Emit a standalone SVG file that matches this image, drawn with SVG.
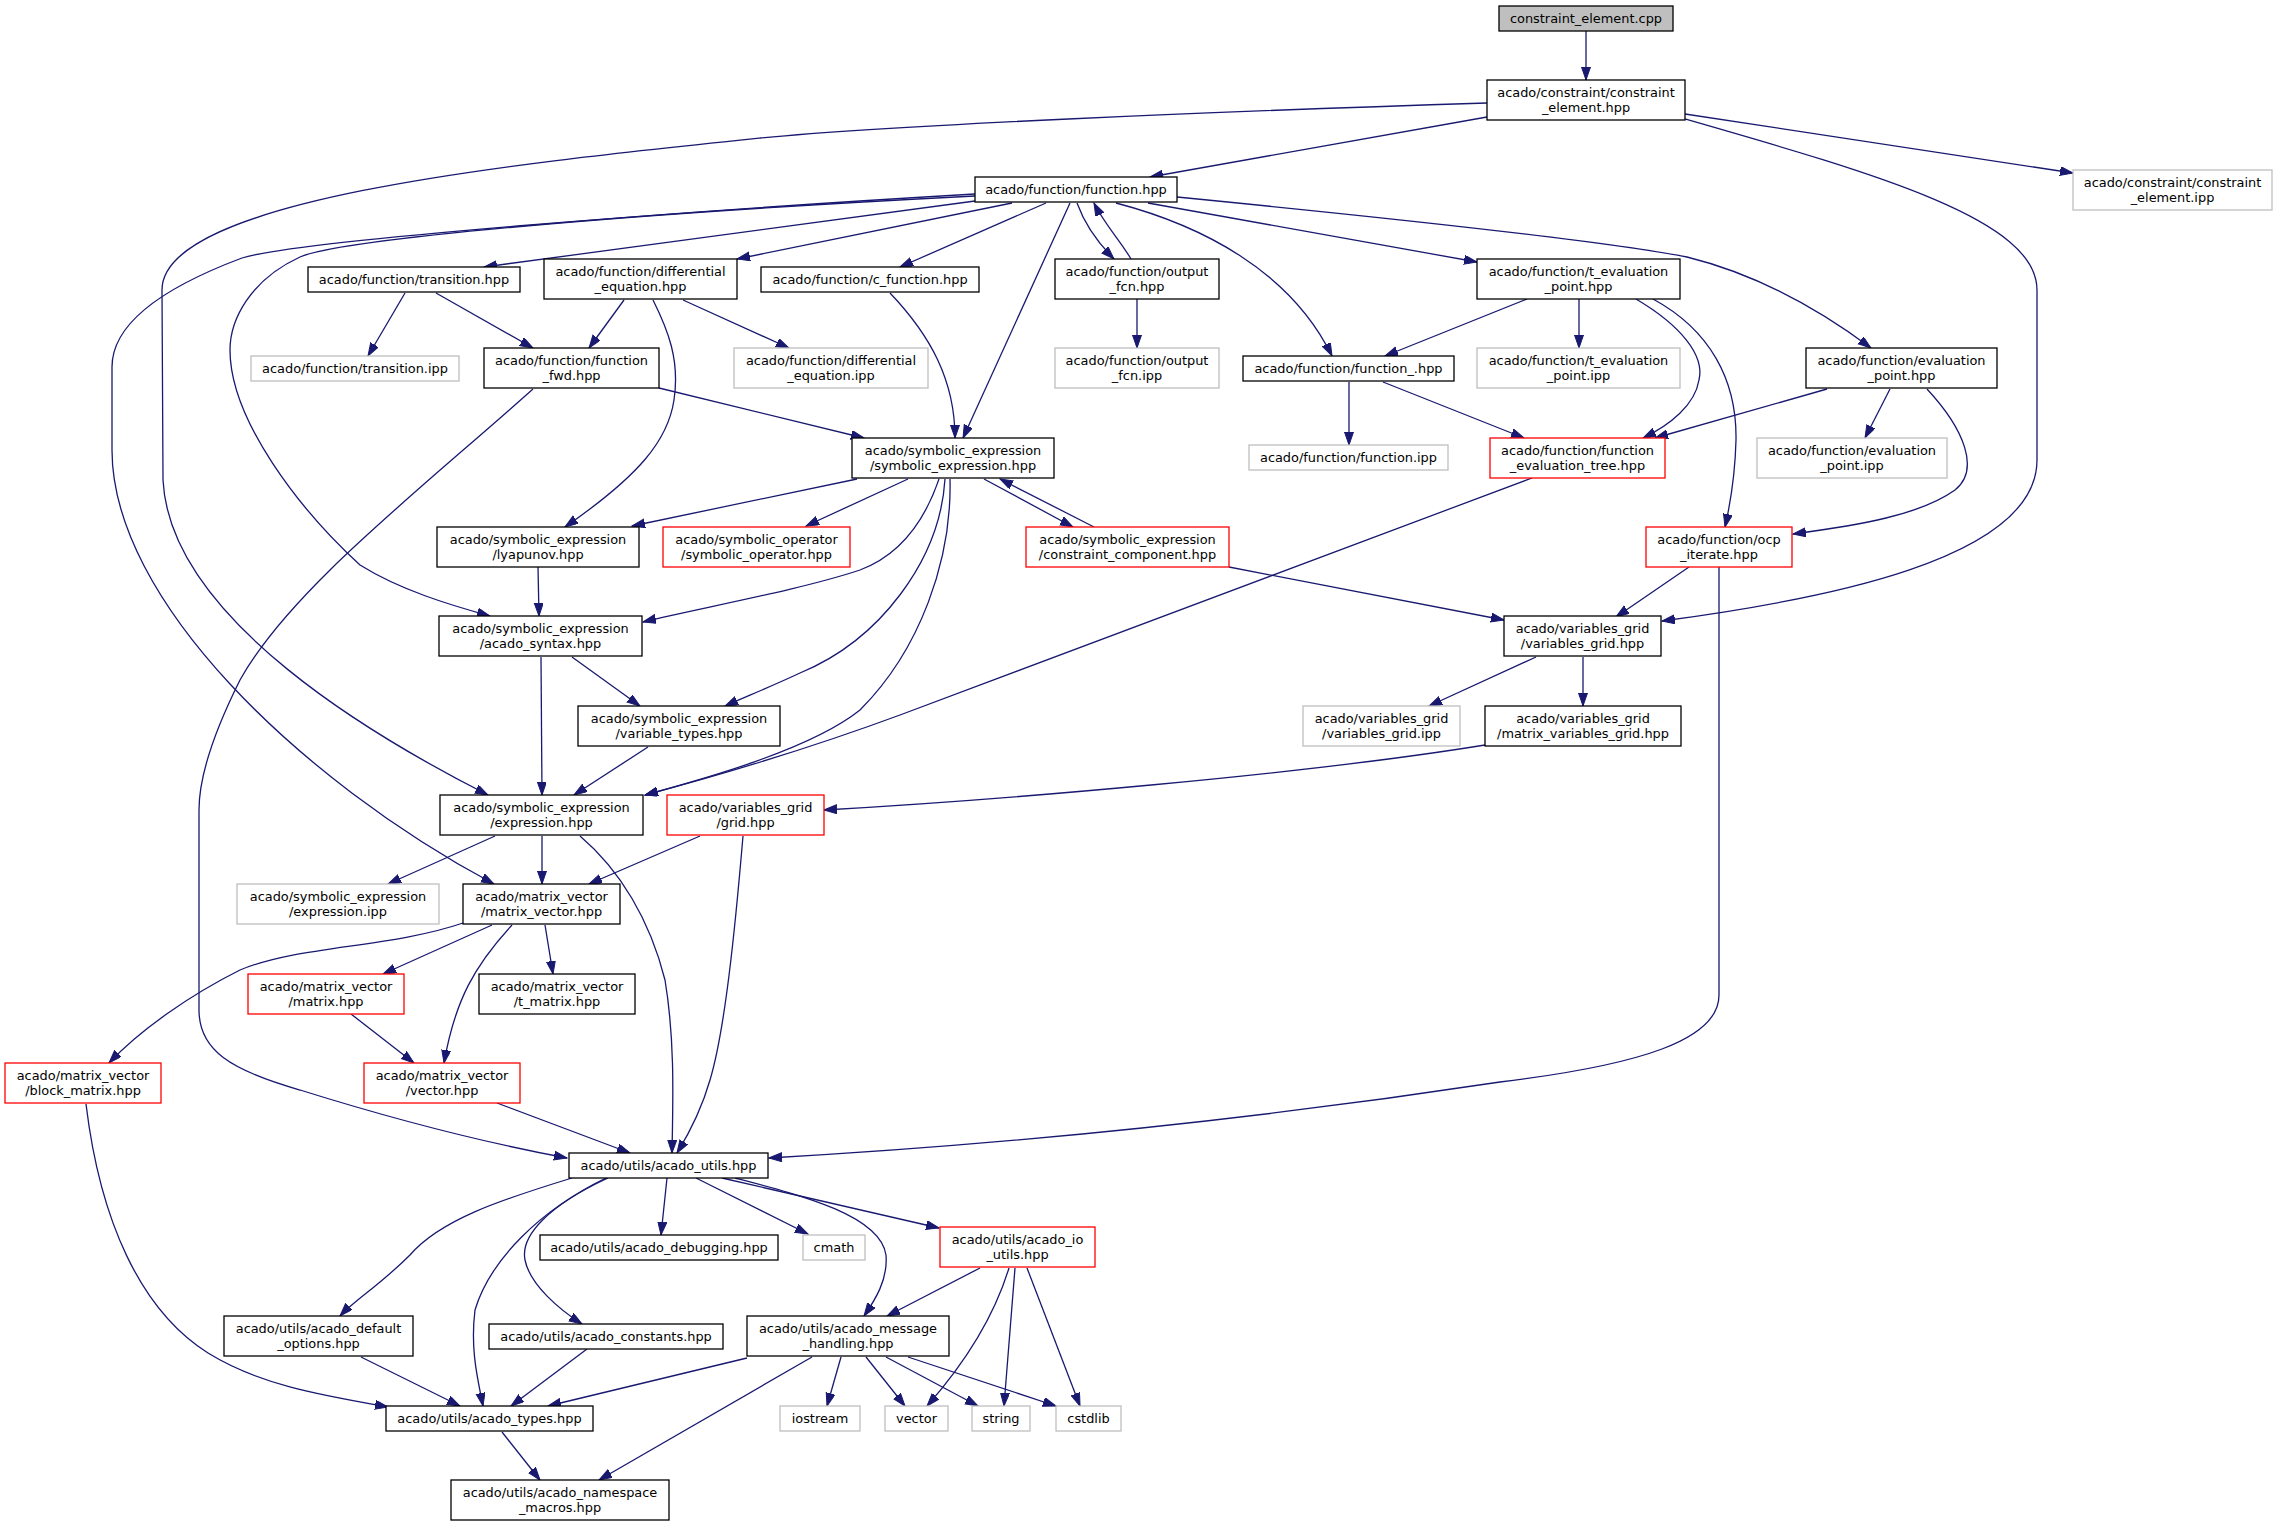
<svg xmlns="http://www.w3.org/2000/svg" width="2277" height="1527" viewBox="0 0 2277 1527">
<style>
text{font-family:"DejaVu Sans",sans-serif;font-size:12.9px;fill:#000;text-anchor:middle}
.nd rect{fill:#fff;stroke:#000;stroke-width:1.3}
.gr rect{fill:#fff;stroke:#bfbfbf;stroke-width:1.3}
.rd rect{fill:#fff;stroke:#ff0000;stroke-width:1.3}
.root rect{fill:#bfbfbf;stroke:#000;stroke-width:1.3}
#edges path{fill:none;stroke:#191970;stroke-width:1.3;marker-end:url(#ah)}
</style>
<defs>
<marker id="ah" markerUnits="userSpaceOnUse" markerWidth="14" markerHeight="10" refX="13" refY="4.5" orient="auto">
<path d="M0,0 L13,4.5 L0,9 z" fill="#191970" stroke="#191970" stroke-width="1"/>
</marker>
</defs>
<rect width="2277" height="1527" fill="#fff"/>
<g id="edges">
<path d="M1586,31 L1586,80"/>
<path d="M1487,117 L1150,177"/>
<path d="M1685,114 L2073,173"/>
<path d="M1685,119 C1880,175 2037,220 2037,290 L2037,460 C2037,560 1820,600 1662,621"/>
<path d="M1487,103 C1200,112 900,125 760,138 C500,165 162,200 162,290 L163,480 C170,620 380,740 488,795"/>
<path d="M975,201 L484,267"/>
<path d="M1012,203 L737,259"/>
<path d="M1046,203 L900,267"/>
<path d="M1070,203 L963,438"/>
<path d="M1077,203 C1085,225 1100,245 1114,259"/>
<path d="M1131,259 C1120,240 1105,225 1094,203"/>
<path d="M1116,203 C1200,225 1290,270 1332,356"/>
<path d="M1148,203 L1477,262"/>
<path d="M1177,197 C1350,214 1600,240 1687,257 C1760,275 1820,310 1871,348"/>
<path d="M975,196 C600,215 340,240 300,257 C250,280 230,320 230,350 C230,420 300,510 360,565 C400,590 450,605 490,616"/>
<path d="M975,194 C700,210 300,240 242,258 C170,285 112,320 112,367 L112,450 C112,600 300,780 494,884"/>
<path d="M405,293 L368,356"/>
<path d="M436,293 L533,348"/>
<path d="M624,300 L589,348"/>
<path d="M653,300 C668,330 680,360 674,400 C668,440 640,475 565,527"/>
<path d="M683,300 L789,348"/>
<path d="M533,389 C420,490 290,590 240,680 C210,740 199,780 199,810 L199,1010 C199,1050 230,1070 300,1090 C380,1115 470,1140 567,1158"/>
<path d="M659,388 L864,438"/>
<path d="M890,293 C930,335 955,380 955,438"/>
<path d="M1137,299 L1137,348"/>
<path d="M1527,299 L1385,356"/>
<path d="M1579,299 L1579,348"/>
<path d="M1636,299 C1680,325 1705,355 1699,380 C1695,405 1670,425 1643,438"/>
<path d="M1653,299 C1710,330 1737,380 1736,440 C1735,480 1730,505 1725,527"/>
<path d="M1349,382 L1349,445"/>
<path d="M1383,382 L1524,438"/>
<path d="M1827,389 L1655,438"/>
<path d="M1890,389 L1865,438"/>
<path d="M1927,389 C1965,430 1980,470 1955,490 C1920,515 1860,525 1793,534"/>
<path d="M1532,478 L900,715 C800,752 720,775 645,795"/>
<path d="M857,479 L632,526"/>
<path d="M908,479 L806,526"/>
<path d="M939,479 C925,520 900,555 860,570 C800,590 700,608 643,622"/>
<path d="M945,479 C940,560 880,640 800,673 C770,687 745,697 725,706"/>
<path d="M950,479 C952,560 920,650 860,710 C810,750 700,780 645,795"/>
<path d="M984,479 L1073,527"/>
<path d="M1094,527 L1000,479"/>
<path d="M1229,567 L1504,620"/>
<path d="M1689,567 L1616,617"/>
<path d="M1719,567 L1719,995 C1719,1040 1640,1065 1500,1082 C1250,1120 1000,1145 769,1158"/>
<path d="M1536,657 L1429,706"/>
<path d="M1583,657 L1583,706"/>
<path d="M1485,745 C1300,775 1000,800 824,810"/>
<path d="M538,567 L539,616"/>
<path d="M541,657 L542,795"/>
<path d="M572,657 L640,706"/>
<path d="M648,747 L574,795"/>
<path d="M495,836 L388,884"/>
<path d="M542,836 L542,884"/>
<path d="M580,836 C620,870 650,920 665,980 C675,1040 673,1100 672,1153"/>
<path d="M700,836 L589,884"/>
<path d="M743,836 C735,930 725,1030 710,1080 C700,1115 685,1140 677,1153"/>
<path d="M492,925 L383,974"/>
<path d="M545,925 L553,974"/>
<path d="M512,925 C475,965 455,1000 444,1063"/>
<path d="M463,923 C390,948 300,945 240,970 C190,995 140,1030 109,1063"/>
<path d="M351,1014 L414,1063"/>
<path d="M497,1103 L630,1153"/>
<path d="M86,1104 C100,1220 140,1310 208,1353 C260,1385 320,1395 388,1407"/>
<path d="M572,1178 C500,1200 440,1220 410,1255 C380,1285 355,1300 340,1316"/>
<path d="M606,1178 C540,1210 490,1260 475,1310 C470,1350 478,1380 483,1406"/>
<path d="M608,1178 C550,1205 520,1235 525,1260 C530,1285 560,1310 582,1324"/>
<path d="M667,1178 L661,1235"/>
<path d="M696,1178 L808,1234"/>
<path d="M722,1178 L939,1228"/>
<path d="M735,1178 C800,1195 880,1215 886,1255 C888,1280 875,1300 864,1316"/>
<path d="M980,1268 L887,1316"/>
<path d="M1009,1268 C990,1330 950,1380 927,1406"/>
<path d="M1015,1268 L1004,1406"/>
<path d="M1027,1268 L1080,1406"/>
<path d="M841,1357 L827,1406"/>
<path d="M866,1357 L905,1406"/>
<path d="M886,1357 L978,1406"/>
<path d="M908,1357 L1056,1406"/>
<path d="M747,1358 L548,1406"/>
<path d="M812,1357 L599,1480"/>
<path d="M361,1357 L460,1406"/>
<path d="M587,1349 L511,1406"/>
<path d="M502,1432 L540,1480"/>
</g>
<g id="n1" class="root"><rect x="1499" y="6" width="174" height="25"/><text x="1586" y="22.5">constraint_element.cpp</text></g>
<g id="n2" class="nd"><rect x="1487" y="80" width="198" height="40"/><text x="1586" y="96.5">acado/constraint/constraint<tspan x="1586" dy="15">_element.hpp</tspan></text></g>
<g id="n3" class="gr"><rect x="2073" y="170" width="199" height="40"/><text x="2172.5" y="186.5">acado/constraint/constraint<tspan x="2172.5" dy="15">_element.ipp</tspan></text></g>
<g id="n4" class="nd"><rect x="975" y="177" width="202" height="25"/><text x="1076" y="193.5">acado/function/function.hpp</text></g>
<g id="n5" class="nd"><rect x="308" y="267" width="212" height="25"/><text x="414" y="283.5">acado/function/transition.hpp</text></g>
<g id="n6" class="nd"><rect x="544" y="259" width="193" height="40"/><text x="640.5" y="275.5">acado/function/differential<tspan x="640.5" dy="15">_equation.hpp</tspan></text></g>
<g id="n7" class="nd"><rect x="761" y="267" width="218" height="25"/><text x="870" y="283.5">acado/function/c_function.hpp</text></g>
<g id="n8" class="nd"><rect x="1055" y="259" width="164" height="40"/><text x="1137" y="275.5">acado/function/output<tspan x="1137" dy="15">_fcn.hpp</tspan></text></g>
<g id="n9" class="nd"><rect x="1477" y="259" width="203" height="40"/><text x="1578.5" y="275.5">acado/function/t_evaluation<tspan x="1578.5" dy="15">_point.hpp</tspan></text></g>
<g id="n10" class="gr"><rect x="251" y="356" width="208" height="25"/><text x="355" y="372.5">acado/function/transition.ipp</text></g>
<g id="n11" class="nd"><rect x="484" y="348" width="175" height="40"/><text x="571.5" y="364.5">acado/function/function<tspan x="571.5" dy="15">_fwd.hpp</tspan></text></g>
<g id="n12" class="gr"><rect x="734" y="348" width="194" height="40"/><text x="831" y="364.5">acado/function/differential<tspan x="831" dy="15">_equation.ipp</tspan></text></g>
<g id="n13" class="gr"><rect x="1055" y="348" width="164" height="40"/><text x="1137" y="364.5">acado/function/output<tspan x="1137" dy="15">_fcn.ipp</tspan></text></g>
<g id="n14" class="nd"><rect x="1243" y="356" width="211" height="25"/><text x="1348.5" y="372.5">acado/function/function_.hpp</text></g>
<g id="n15" class="gr"><rect x="1477" y="348" width="203" height="40"/><text x="1578.5" y="364.5">acado/function/t_evaluation<tspan x="1578.5" dy="15">_point.ipp</tspan></text></g>
<g id="n16" class="nd"><rect x="1806" y="348" width="191" height="40"/><text x="1901.5" y="364.5">acado/function/evaluation<tspan x="1901.5" dy="15">_point.hpp</tspan></text></g>
<g id="n17" class="gr"><rect x="1249" y="445" width="199" height="25"/><text x="1348.5" y="461.5">acado/function/function.ipp</text></g>
<g id="n18" class="rd"><rect x="1490" y="438" width="175" height="40"/><text x="1577.5" y="454.5">acado/function/function<tspan x="1577.5" dy="15">_evaluation_tree.hpp</tspan></text></g>
<g id="n19" class="gr"><rect x="1757" y="438" width="190" height="40"/><text x="1852" y="454.5">acado/function/evaluation<tspan x="1852" dy="15">_point.ipp</tspan></text></g>
<g id="n20" class="nd"><rect x="852" y="438" width="202" height="40"/><text x="953" y="454.5">acado/symbolic_expression<tspan x="953" dy="15">/symbolic_expression.hpp</tspan></text></g>
<g id="n21" class="nd"><rect x="437" y="527" width="202" height="40"/><text x="538" y="543.5">acado/symbolic_expression<tspan x="538" dy="15">/lyapunov.hpp</tspan></text></g>
<g id="n22" class="rd"><rect x="663" y="527" width="187" height="40"/><text x="756.5" y="543.5">acado/symbolic_operator<tspan x="756.5" dy="15">/symbolic_operator.hpp</tspan></text></g>
<g id="n23" class="rd"><rect x="1026" y="527" width="203" height="40"/><text x="1127.5" y="543.5">acado/symbolic_expression<tspan x="1127.5" dy="15">/constraint_component.hpp</tspan></text></g>
<g id="n24" class="rd"><rect x="1646" y="527" width="146" height="40"/><text x="1719" y="543.5">acado/function/ocp<tspan x="1719" dy="15">_iterate.hpp</tspan></text></g>
<g id="n25" class="nd"><rect x="439" y="616" width="203" height="40"/><text x="540.5" y="632.5">acado/symbolic_expression<tspan x="540.5" dy="15">/acado_syntax.hpp</tspan></text></g>
<g id="n26" class="nd"><rect x="1504" y="616" width="157" height="40"/><text x="1582.5" y="632.5">acado/variables_grid<tspan x="1582.5" dy="15">/variables_grid.hpp</tspan></text></g>
<g id="n27" class="nd"><rect x="578" y="706" width="202" height="40"/><text x="679" y="722.5">acado/symbolic_expression<tspan x="679" dy="15">/variable_types.hpp</tspan></text></g>
<g id="n28" class="gr"><rect x="1303" y="706" width="157" height="40"/><text x="1381.5" y="722.5">acado/variables_grid<tspan x="1381.5" dy="15">/variables_grid.ipp</tspan></text></g>
<g id="n29" class="nd"><rect x="1485" y="706" width="196" height="40"/><text x="1583" y="722.5">acado/variables_grid<tspan x="1583" dy="15">/matrix_variables_grid.hpp</tspan></text></g>
<g id="n30" class="nd"><rect x="440" y="795" width="203" height="40"/><text x="541.5" y="811.5">acado/symbolic_expression<tspan x="541.5" dy="15">/expression.hpp</tspan></text></g>
<g id="n31" class="rd"><rect x="667" y="795" width="157" height="40"/><text x="745.5" y="811.5">acado/variables_grid<tspan x="745.5" dy="15">/grid.hpp</tspan></text></g>
<g id="n32" class="gr"><rect x="237" y="884" width="202" height="40"/><text x="338" y="900.5">acado/symbolic_expression<tspan x="338" dy="15">/expression.ipp</tspan></text></g>
<g id="n33" class="nd"><rect x="463" y="884" width="157" height="40"/><text x="541.5" y="900.5">acado/matrix_vector<tspan x="541.5" dy="15">/matrix_vector.hpp</tspan></text></g>
<g id="n34" class="rd"><rect x="248" y="974" width="156" height="40"/><text x="326" y="990.5">acado/matrix_vector<tspan x="326" dy="15">/matrix.hpp</tspan></text></g>
<g id="n35" class="nd"><rect x="479" y="974" width="156" height="40"/><text x="557" y="990.5">acado/matrix_vector<tspan x="557" dy="15">/t_matrix.hpp</tspan></text></g>
<g id="n36" class="rd"><rect x="5" y="1063" width="156" height="40"/><text x="83" y="1079.5">acado/matrix_vector<tspan x="83" dy="15">/block_matrix.hpp</tspan></text></g>
<g id="n37" class="rd"><rect x="364" y="1063" width="156" height="40"/><text x="442" y="1079.5">acado/matrix_vector<tspan x="442" dy="15">/vector.hpp</tspan></text></g>
<g id="n38" class="nd"><rect x="569" y="1153" width="199" height="25"/><text x="668.5" y="1169.5">acado/utils/acado_utils.hpp</text></g>
<g id="n39" class="nd"><rect x="540" y="1235" width="238" height="25"/><text x="659" y="1251.5">acado/utils/acado_debugging.hpp</text></g>
<g id="n40" class="gr"><rect x="803" y="1235" width="62" height="25"/><text x="834" y="1251.5">cmath</text></g>
<g id="n41" class="rd"><rect x="940" y="1227" width="155" height="40"/><text x="1017.5" y="1243.5">acado/utils/acado_io<tspan x="1017.5" dy="15">_utils.hpp</tspan></text></g>
<g id="n42" class="nd"><rect x="224" y="1316" width="189" height="40"/><text x="318.5" y="1332.5">acado/utils/acado_default<tspan x="318.5" dy="15">_options.hpp</tspan></text></g>
<g id="n43" class="nd"><rect x="489" y="1324" width="234" height="25"/><text x="606" y="1340.5">acado/utils/acado_constants.hpp</text></g>
<g id="n44" class="nd"><rect x="747" y="1316" width="202" height="40"/><text x="848" y="1332.5">acado/utils/acado_message<tspan x="848" dy="15">_handling.hpp</tspan></text></g>
<g id="n45" class="nd"><rect x="386" y="1406" width="207" height="25"/><text x="489.5" y="1422.5">acado/utils/acado_types.hpp</text></g>
<g id="n46" class="gr"><rect x="780" y="1406" width="80" height="25"/><text x="820" y="1422.5">iostream</text></g>
<g id="n47" class="gr"><rect x="885" y="1406" width="63" height="25"/><text x="916.5" y="1422.5">vector</text></g>
<g id="n48" class="gr"><rect x="972" y="1406" width="58" height="25"/><text x="1001" y="1422.5">string</text></g>
<g id="n49" class="gr"><rect x="1056" y="1406" width="65" height="25"/><text x="1088.5" y="1422.5">cstdlib</text></g>
<g id="n50" class="nd"><rect x="451" y="1480" width="218" height="40"/><text x="560" y="1496.5">acado/utils/acado_namespace<tspan x="560" dy="15">_macros.hpp</tspan></text></g>
</svg>
